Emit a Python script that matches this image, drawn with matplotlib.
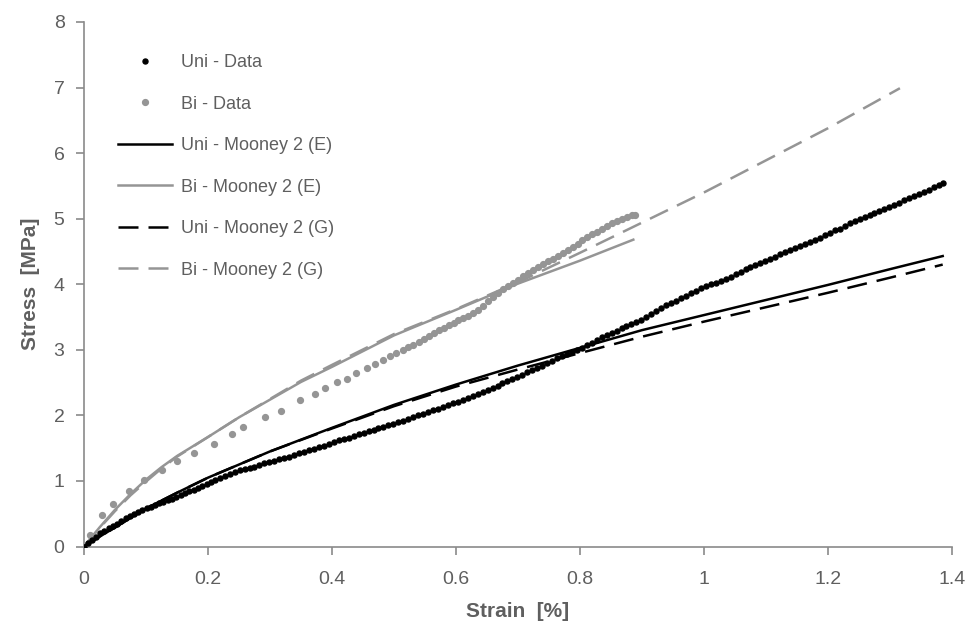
import matplotlib
matplotlib.use("Agg")
import matplotlib.pyplot as plt

plt.rcParams['font.family'] = ['Liberation Sans', 'DejaVu Sans']

# ---------------- data ----------------
uni_strain = [0.000, 0.007, 0.013, 0.020, 0.026, 0.033, 0.040, 0.046, 0.053, 0.060,
              0.067, 0.074, 0.080, 0.087, 0.094, 0.101, 0.108, 0.115, 0.121, 0.128,
              0.135, 0.142, 0.149, 0.156, 0.163, 0.170, 0.177, 0.184, 0.191, 0.198,
              0.205, 0.212, 0.219, 0.227, 0.235, 0.243, 0.251, 0.259, 0.267, 0.275,
              0.283, 0.291, 0.299, 0.307, 0.315, 0.323, 0.331, 0.339, 0.347, 0.355,
              0.363, 0.371, 0.379, 0.387, 0.395, 0.403, 0.411, 0.419, 0.427, 0.435,
              0.443, 0.451, 0.459, 0.467, 0.475, 0.483, 0.491, 0.499, 0.507, 0.515,
              0.523, 0.531, 0.539, 0.547, 0.555, 0.563, 0.571, 0.579, 0.587, 0.595,
              0.603, 0.611, 0.619, 0.627, 0.635, 0.643, 0.651, 0.659, 0.667, 0.675,
              0.683, 0.691, 0.699, 0.707, 0.715, 0.723, 0.731, 0.739, 0.747, 0.755,
              0.763, 0.771, 0.779, 0.787, 0.795, 0.803, 0.811, 0.819, 0.827, 0.835,
              0.843, 0.851, 0.859, 0.867, 0.875, 0.883, 0.891, 0.899, 0.907, 0.915,
              0.923, 0.931, 0.939, 0.947, 0.955, 0.963, 0.971, 0.979, 0.987, 0.995,
              1.003, 1.011, 1.019, 1.027, 1.035, 1.043, 1.051, 1.059, 1.067, 1.075,
              1.083, 1.091, 1.099, 1.107, 1.115, 1.123, 1.131, 1.139, 1.147, 1.155,
              1.163, 1.171, 1.179, 1.187, 1.195, 1.203, 1.211, 1.219, 1.227, 1.235,
              1.243, 1.251, 1.259, 1.267, 1.275, 1.283, 1.291, 1.299, 1.307, 1.315,
              1.323, 1.331, 1.339, 1.347, 1.355, 1.363, 1.371, 1.379, 1.385]
uni_stress = [0.00, 0.05, 0.10, 0.15, 0.20, 0.24, 0.28, 0.32, 0.35, 0.39,
              0.43, 0.46, 0.49, 0.52, 0.55, 0.58, 0.61, 0.63, 0.66, 0.68,
              0.71, 0.73, 0.76, 0.78, 0.81, 0.84, 0.86, 0.89, 0.92, 0.95,
              0.98, 1.01, 1.04, 1.07, 1.11, 1.14, 1.16, 1.18, 1.20, 1.22,
              1.25, 1.27, 1.29, 1.31, 1.33, 1.35, 1.37, 1.39, 1.42, 1.44,
              1.47, 1.49, 1.52, 1.54, 1.57, 1.59, 1.62, 1.64, 1.66, 1.69,
              1.71, 1.73, 1.76, 1.78, 1.80, 1.83, 1.85, 1.87, 1.90, 1.92,
              1.94, 1.97, 2.00, 2.02, 2.05, 2.08, 2.10, 2.13, 2.16, 2.19,
              2.21, 2.24, 2.27, 2.29, 2.32, 2.36, 2.39, 2.42, 2.45, 2.49,
              2.52, 2.55, 2.59, 2.62, 2.66, 2.69, 2.73, 2.76, 2.80, 2.83,
              2.87, 2.90, 2.93, 2.96, 2.99, 3.03, 3.07, 3.11, 3.15, 3.19,
              3.22, 3.26, 3.29, 3.33, 3.36, 3.39, 3.43, 3.46, 3.50, 3.54,
              3.59, 3.64, 3.68, 3.71, 3.75, 3.79, 3.82, 3.86, 3.90, 3.94,
              3.97, 4.00, 4.02, 4.05, 4.08, 4.11, 4.15, 4.19, 4.23, 4.26,
              4.29, 4.33, 4.36, 4.39, 4.42, 4.46, 4.49, 4.52, 4.55, 4.58,
              4.62, 4.65, 4.68, 4.71, 4.75, 4.78, 4.82, 4.85, 4.89, 4.93,
              4.96, 4.99, 5.02, 5.05, 5.08, 5.11, 5.15, 5.18, 5.21, 5.24,
              5.28, 5.31, 5.34, 5.38, 5.41, 5.44, 5.48, 5.52, 5.55]

bi_strain = [0.000, 0.010, 0.029, 0.046, 0.072, 0.097, 0.126, 0.150, 0.177, 0.209,
             0.239, 0.257, 0.292, 0.317, 0.349, 0.373, 0.388, 0.408, 0.424, 0.439,
             0.457, 0.470, 0.483, 0.494, 0.504, 0.515, 0.523, 0.531, 0.540, 0.548,
             0.556, 0.564, 0.572, 0.580, 0.588, 0.596, 0.604, 0.612, 0.620, 0.628,
             0.636, 0.644, 0.652, 0.660, 0.668, 0.676, 0.684, 0.692, 0.700, 0.708,
             0.716, 0.724, 0.732, 0.740, 0.748, 0.756, 0.764, 0.772, 0.780, 0.788,
             0.796, 0.804, 0.812, 0.820, 0.828, 0.836, 0.844, 0.852, 0.860, 0.868,
             0.876, 0.884, 0.888]
bi_stress = [0.00, 0.18, 0.48, 0.65, 0.84, 1.02, 1.17, 1.30, 1.43, 1.57,
             1.72, 1.82, 1.97, 2.07, 2.23, 2.33, 2.41, 2.51, 2.56, 2.65,
             2.73, 2.78, 2.84, 2.90, 2.95, 3.00, 3.04, 3.07, 3.12, 3.16,
             3.21, 3.25, 3.30, 3.34, 3.38, 3.41, 3.45, 3.48, 3.52, 3.56,
             3.61, 3.67, 3.74, 3.80, 3.86, 3.92, 3.97, 4.02, 4.07, 4.12,
             4.17, 4.22, 4.26, 4.31, 4.35, 4.39, 4.43, 4.47, 4.52, 4.57,
             4.62, 4.67, 4.72, 4.76, 4.80, 4.85, 4.89, 4.93, 4.97, 5.00,
             5.03, 5.05, 5.06]

uni_model_strain = [0.0, 0.025, 0.05, 0.1, 0.15, 0.2, 0.3, 0.4, 0.5, 0.6,
                    0.7, 0.8, 0.9, 1.0, 1.1, 1.2, 1.3, 1.385]
uni_mooney_e = [0.0, 0.15, 0.29, 0.58, 0.82, 1.05, 1.45, 1.81, 2.16, 2.47,
                2.76, 3.03, 3.30, 3.53, 3.76, 3.99, 4.23, 4.43]
uni_mooney_g = [0.0, 0.15, 0.29, 0.58, 0.82, 1.05, 1.45, 1.80, 2.14, 2.44,
                2.70, 2.95, 3.20, 3.43, 3.65, 3.87, 4.10, 4.30]

bi_e_strain = [0.0, 0.025, 0.05, 0.075, 0.1, 0.125, 0.15, 0.2, 0.25, 0.3,
               0.35, 0.4, 0.5, 0.6, 0.7, 0.8, 0.886]
bi_mooney_e = [0.0, 0.29, 0.56, 0.80, 1.02, 1.21, 1.38, 1.67, 1.97, 2.24,
               2.51, 2.74, 3.22, 3.61, 4.01, 4.36, 4.68]

bi_g_strain = [0.0, 0.025, 0.05, 0.075, 0.1, 0.125, 0.15, 0.2, 0.25, 0.3,
               0.35, 0.4, 0.5, 0.6, 0.7, 0.8, 0.9, 1.0, 1.1, 1.2, 1.316]
bi_mooney_g = [0.0, 0.28, 0.54, 0.78, 0.99, 1.19, 1.37, 1.67, 1.97, 2.25,
               2.53, 2.77, 3.24, 3.62, 4.03, 4.48, 4.94, 5.40, 5.89, 6.38, 6.99]

x_ticks = [0, 0.2, 0.4, 0.6, 0.8, 1.0, 1.2, 1.4]
x_ticklabels = ['0', '0.2', '0.4', '0.6', '0.8', '1', '1.2', '1.4']
y_ticks = [0, 1, 2, 3, 4, 5, 6, 7, 8]

# ---------------- styling ----------------
GRAY = '#959595'
TXT = '#5f5f5f'
AX = '#8a8a8a'

fig = plt.figure(figsize=(9.66, 6.25), dpi=100)
ax = fig.add_axes([84 / 966, 1 - 546.5 / 625, (952 - 84) / 966, (546.5 - 22) / 625])

ax.plot(uni_strain, uni_stress, linestyle='none', marker='o', ms=3.6,
        color='black', mec='black', label='Uni - Data', zorder=4)
ax.plot(bi_strain, bi_stress, linestyle='none', marker='o', ms=4.2,
        color=GRAY, mec=GRAY, label='Bi - Data', zorder=3)
ax.plot(uni_model_strain, uni_mooney_e, color='black', lw=1.8,
        label='Uni - Mooney 2 (E)', zorder=5)
ax.plot(bi_e_strain, bi_mooney_e, color=GRAY, lw=1.8,
        label='Bi - Mooney 2 (E)', zorder=2)
ax.plot(uni_model_strain, uni_mooney_g, color='black', lw=1.8,
        dashes=(8, 4), label='Uni - Mooney 2 (G)', zorder=5)
ax.plot(bi_g_strain, bi_mooney_g, color=GRAY, lw=1.8,
        dashes=(8, 4), label='Bi - Mooney 2 (G)', zorder=2)

ax.set_xlim(0, 1.4)
ax.set_ylim(0, 8)
ax.set_xticks(x_ticks)
ax.set_xticklabels(x_ticklabels)
ax.set_yticks(y_ticks)

for s in ['top', 'right']:
    ax.spines[s].set_visible(False)
for s in ['left', 'bottom']:
    ax.spines[s].set_color(AX)
    ax.spines[s].set_linewidth(1.2)
ax.tick_params(direction='out', length=6, width=1.2, color=AX,
               labelcolor=TXT, labelsize=14)
ax.tick_params(axis='x', pad=12)
ax.tick_params(axis='y', pad=8)

ax.set_xlabel('Strain  [%]', fontsize=15, fontweight='bold', color=TXT, labelpad=10)
ax.set_ylabel('Stress  [MPa]', fontsize=15, fontweight='bold', color=TXT, labelpad=10)

leg = ax.legend(loc='upper left', bbox_to_anchor=(118 / 966, 1 - 54 / 625),
                bbox_transform=fig.transFigure, frameon=False, fontsize=13,
                labelspacing=1.36, handlelength=3.0, handletextpad=0.5,
                borderpad=0, borderaxespad=0, markerscale=1.0)
for t in leg.get_texts():
    t.set_color(TXT)

fig.savefig('out.png', dpi=100)
